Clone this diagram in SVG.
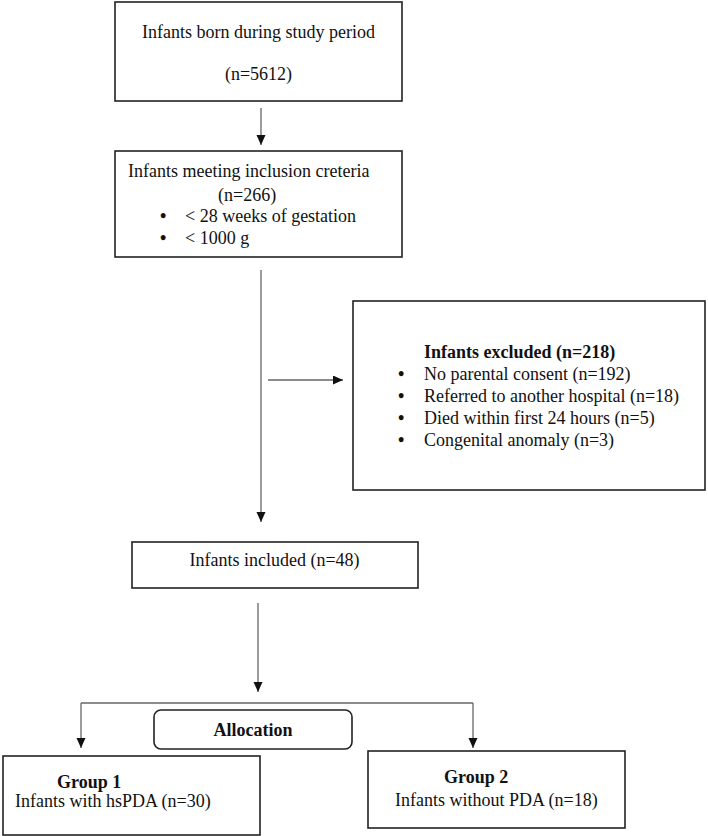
<svg xmlns="http://www.w3.org/2000/svg" width="708" height="836" viewBox="0 0 708 836">
<style>
.box{fill:#fff;stroke:#222;stroke-width:1.6}
.t{font-family:"Liberation Serif","Times New Roman",serif;font-size:18px;fill:#111}
.b{font-weight:bold}
.c{text-anchor:middle}
.ln{stroke:#666;stroke-width:1.3;fill:none}
</style>
<defs>
<marker id="ah" markerUnits="userSpaceOnUse" markerWidth="10" markerHeight="12" refX="10" refY="4.5" orient="auto">
<path d="M0,0 L10,4.5 L0,9 Z" fill="#111"/>
</marker>
</defs>
<rect width="708" height="836" fill="#fff"/>
<g id="connectors">
<line class="ln" x1="261" y1="108" x2="261" y2="145" marker-end="url(#ah)"/>
<line class="ln" x1="261" y1="270" x2="261" y2="522" marker-end="url(#ah)"/>
<line class="ln" x1="268" y1="380" x2="343" y2="380" marker-end="url(#ah)"/>
<line class="ln" x1="258" y1="603" x2="258" y2="692" marker-end="url(#ah)"/>
<line class="ln" x1="81" y1="703" x2="473" y2="703"/>
<line class="ln" x1="81" y1="703" x2="81" y2="748" marker-end="url(#ah)"/>
<line class="ln" x1="473" y1="703" x2="473" y2="748" marker-end="url(#ah)"/>
</g>
<g id="born">
<rect class="box" x="115" y="2" width="287" height="99"/>
<text class="t c" x="258.5" y="38">Infants born during study period</text>
<text class="t c" x="258.5" y="80">(n=5612)</text>
</g>
<g id="inclusion">
<rect class="box" x="115" y="151" width="287" height="106"/>
<text class="t" x="128" y="177">Infants meeting inclusion creteria</text>
<text class="t" x="218" y="201">(n=266)</text>
<text class="t b" x="160" y="222">•</text>
<text class="t" x="185" y="222">&lt; 28 weeks of gestation</text>
<text class="t b" x="160" y="244">•</text>
<text class="t" x="185" y="244">&lt; 1000 g</text>
</g>
<g id="excluded">
<rect class="box" x="353" y="301" width="352" height="189"/>
<text class="t b" x="424" y="358">Infants excluded (n=218)</text>
<text class="t b" x="398" y="380">•</text>
<text class="t" x="424" y="380">No parental consent (n=192)</text>
<text class="t b" x="398" y="402">•</text>
<text class="t" x="424" y="402">Referred to another hospital (n=18)</text>
<text class="t b" x="398" y="424">•</text>
<text class="t" x="424" y="424">Died within first 24 hours (n=5)</text>
<text class="t b" x="398" y="446">•</text>
<text class="t" x="424" y="446">Congenital anomaly (n=3)</text>
</g>
<g id="included">
<rect class="box" x="132" y="542" width="286" height="46"/>
<text class="t c" x="274.5" y="566">Infants included (n=48)</text>
</g>
<g id="allocation">
<rect class="box" x="154" y="710" width="198" height="39" rx="7" ry="7"/>
<text class="t b c" x="253" y="736">Allocation</text>
</g>
<g id="group1">
<rect class="box" x="3" y="756" width="257" height="79"/>
<text class="t b" x="57" y="788">Group 1</text>
<text class="t" x="15" y="807">Infants with hsPDA (n=30)</text>
</g>
<g id="group2">
<rect class="box" x="368" y="751" width="257" height="77"/>
<text class="t b" x="444" y="783">Group 2</text>
<text class="t" x="395" y="806">Infants without PDA (n=18)</text>
</g>
</svg>
